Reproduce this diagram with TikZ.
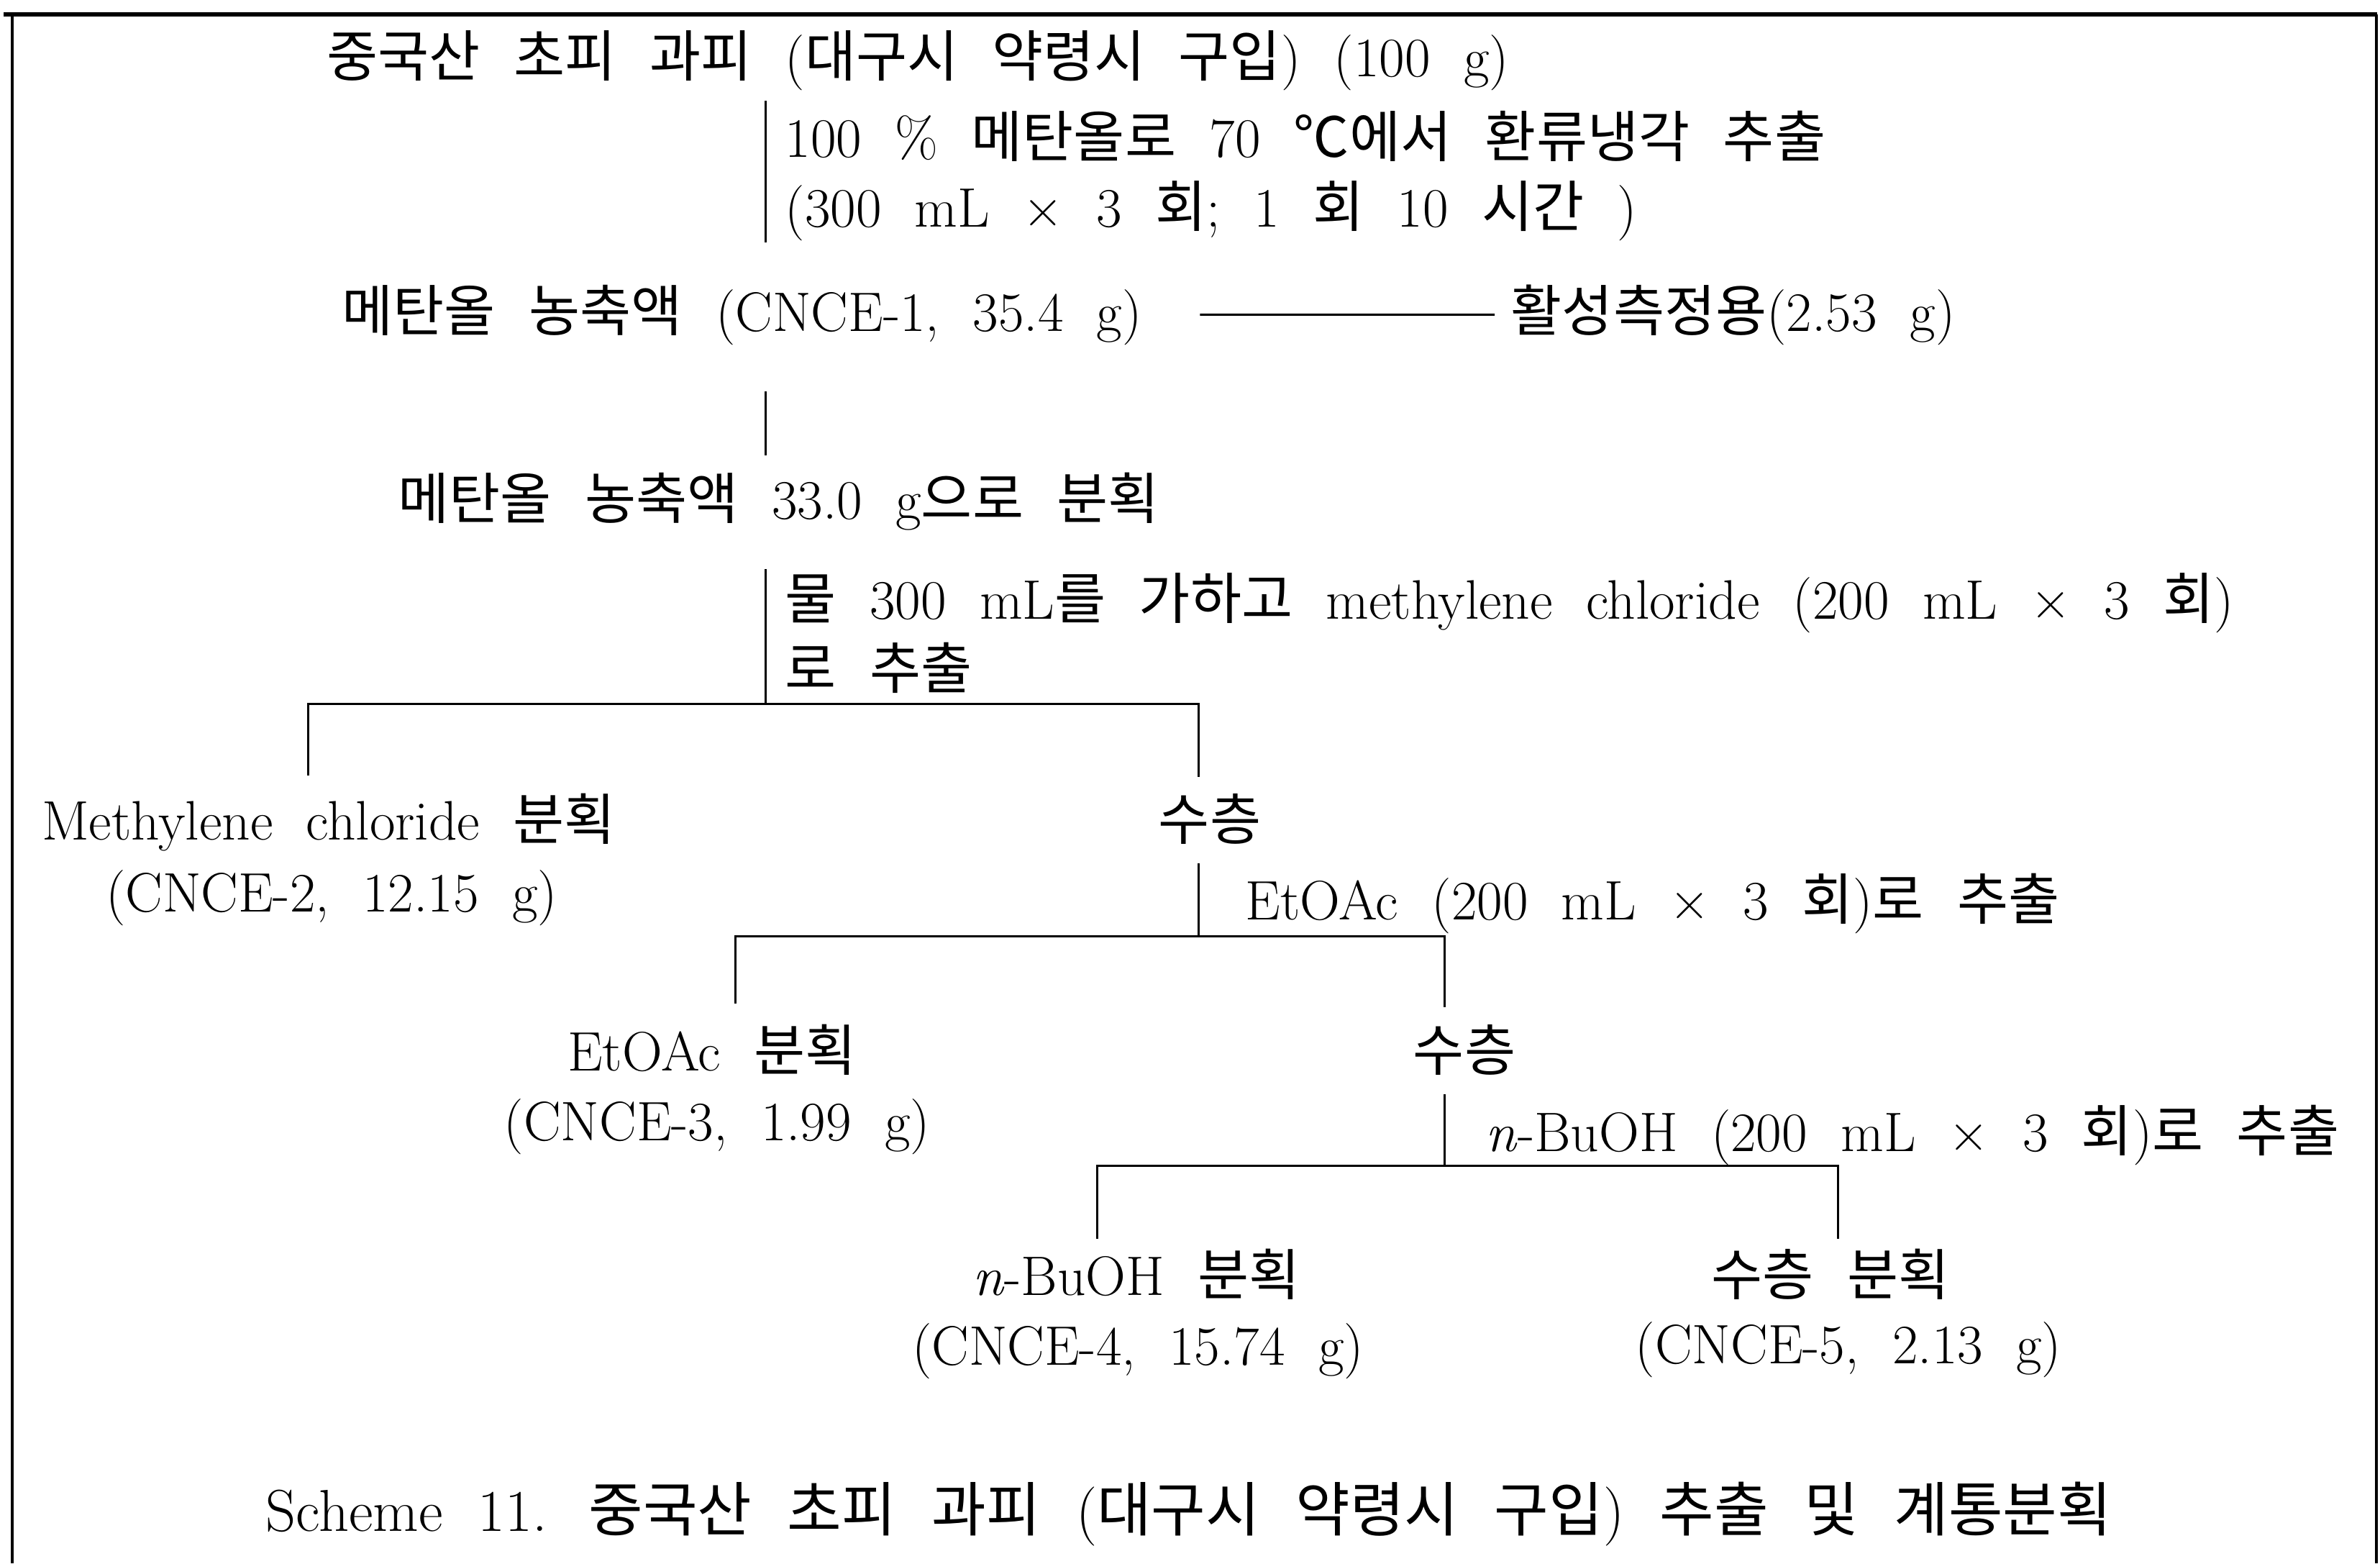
\documentclass[tikz,border=0pt]{standalone}
\usepackage{fontspec}
\newfontfamily\krfont{Noto Sans CJK KR}
\newcommand{\kr}[1]{{\krfont #1}}
\newcommand{\schemefont}{\fontsize{22}{26}\selectfont\spaceskip=0.6em\relax}
\newcommand{\schemecapfont}{\fontsize{23.4}{28}\selectfont\spaceskip=0.6em\relax}
\newlength{\du}
\setlength{\du}{1cm}
\tikzset{
  txt/.style={anchor=base west, inner sep=0pt, font=\schemefont},
  ctxt/.style={anchor=base, inner sep=0pt, font=\schemefont},
  stem/.style={line width=0.03\du},
  tie/.style={line width=0.03\du, shorten <=0.8\du, shorten >=0.22\du},
  frameline/.style={line width=0.04\du}
}

\begin{document}
\begin{tikzpicture}
\pgftransformxscale{1.000000}
\pgftransformyscale{-1.000000}
\definecolor{dialinecolor}{rgb}{0.000000, 0.000000, 0.000000}
\pgfsetstrokecolor{dialinecolor}
\useasboundingbox (0.000000\du,0.000000\du) rectangle (33.090000\du,21.730000\du);
% box round the scheme, open at the bottom
\draw[frameline, line width=0.06\du] (0.050000\du,0.200000\du)--(33.050000\du,0.200000\du);
\draw[frameline] (0.170000\du,0.200000\du)--(0.170000\du,21.730000\du);
\draw[frameline] (33.040000\du,0.200000\du)--(33.040000\du,21.730000\du);
% texts
\node[txt] (raw) at (4.540000\du,1.060000\du){\kr{중국산 초피 과피} (\kr{대구시 약령시 구입}) (100 g)};
\node[txt] (ext1a) at (10.910000\du,2.180000\du){100 \% \kr{메탄올로} 70 \kr{℃에서 환류냉각 추출}};
\node[txt] (ext1b) at (10.910000\du,3.150000\du){(300 mL × 3 \kr{회}; 1 \kr{회} 10 \kr{시간} )};
\node[txt] (crude) at (4.750000\du,4.600000\du){\kr{메탄올 농축액} (CNCE-1, 35.4 g)};
\node[txt] (assay) at (21.000000\du,4.600000\du){\kr{활성측정용}(2.53 g)};
\node[txt] (split) at (5.530000\du,7.210000\du){\kr{메탄올 농축액} 33.0 g\kr{으로 분획}};
\node[txt] (ext2a) at (10.910000\du,8.600000\du){\kr{물} 300 mL\kr{를 가하고} methylene chloride (200 mL × 3 \kr{회})};
\node[txt] (ext2b) at (10.910000\du,9.570000\du){\kr{로 추출}};
\node[ctxt] (mcfrac) at (4.570000\du,11.670000\du){Methylene chloride \kr{분획}};
\node[ctxt] (mcid) at (4.610000\du,12.670000\du){(CNCE-2, 12.15 g)};
\node[ctxt] (aq1) at (16.820000\du,11.670000\du){\kr{수층}};
\node[txt] (ext3) at (17.310000\du,12.780000\du){EtOAc (200 mL × 3 \kr{회})\kr{로 추출}};
\node[ctxt] (eafrac) at (9.900000\du,14.880000\du){EtOAc \kr{분획}};
\node[ctxt] (eaid) at (9.970000\du,15.850000\du){(CNCE-3, 1.99 g)};
\node[ctxt] (aq2) at (20.360000\du,14.880000\du){\kr{수층}};
\node[txt] (ext4) at (20.650000\du,16.000000\du){\textit{n}-BuOH (200 mL × 3 \kr{회})\kr{로 추출}};
\node[ctxt] (bufrac) at (15.800000\du,18.000000\du){\textit{n}-BuOH \kr{분획}};
\node[ctxt] (buid) at (15.820000\du,18.970000\du){(CNCE-4, 15.74 g)};
\node[ctxt] (aqfrac) at (25.450000\du,18.000000\du){\kr{수층 분획}};
\node[ctxt] (aqid) at (25.700000\du,18.950000\du){(CNCE-5, 2.13 g)};
\node[ctxt, font=\schemecapfont] (caption) at (16.530000\du,21.280000\du){Scheme 11. \kr{중국산 초피 과피} (\kr{대구시 약령시 구입}) \kr{추출 및 계통분획}};
% tie line to the assay portion
\draw[tie] (crude)--(assay);
% stems and branch points
\coordinate (s1) at (10.640000\du,1.400000\du);
\coordinate (e1) at (10.640000\du,3.370000\du);
\coordinate (s2) at (10.640000\du,5.440000\du);
\coordinate (e2) at (10.640000\du,6.330000\du);
\coordinate (s3) at (10.640000\du,7.910000\du);
\coordinate (b1) at (10.640000\du,9.780000\du);
\coordinate (b1l) at (4.280000\du,10.780000\du);
\coordinate (b1r) at (16.660000\du,10.800000\du);
\coordinate (s4) at (16.660000\du,12.000000\du);
\coordinate (b2) at (16.660000\du,13.010000\du);
\coordinate (b2l) at (10.220000\du,13.950000\du);
\coordinate (b2r) at (20.080000\du,14.000000\du);
\coordinate (s5) at (20.080000\du,15.210000\du);
\coordinate (b3) at (20.080000\du,16.200000\du);
\coordinate (b3l) at (15.250000\du,17.220000\du);
\coordinate (b3r) at (25.550000\du,17.220000\du);
\draw[stem] (s1)--(e1);
\draw[stem] (s2)--(e2);
\draw[stem] (s3)--(b1);
\draw[stem] (b1l) |- (b1) -| (b1r);
\draw[stem] (s4)--(b2);
\draw[stem] (b2l) |- (b2) -| (b2r);
\draw[stem] (s5)--(b3);
\draw[stem] (b3l) |- (b3) -| (b3r);
\end{tikzpicture}
\end{document}
